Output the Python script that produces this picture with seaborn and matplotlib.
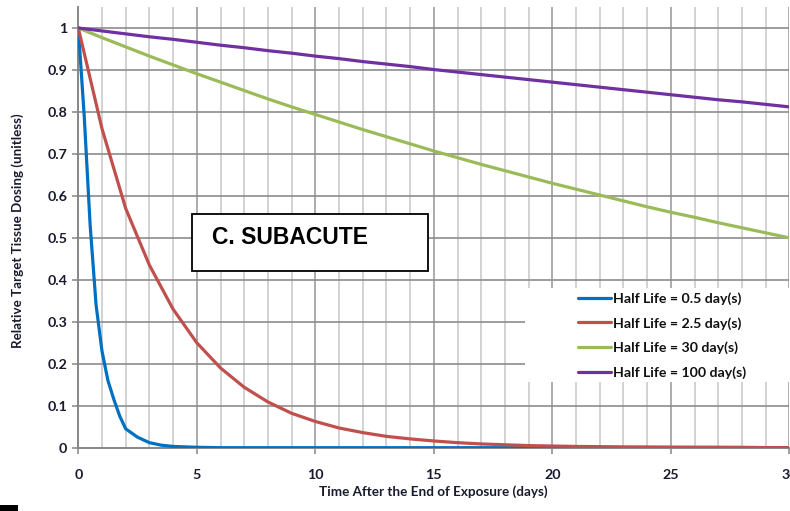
import numpy as np
import pandas as pd
import matplotlib
matplotlib.use("Agg")
import matplotlib.pyplot as plt
from matplotlib.patches import Rectangle
from matplotlib.lines import Line2D
import seaborn as sns

# ---- data ----
days = list(range(0, 31))
blue_t = [0, 0.25, 0.5, 0.75, 1, 1.25, 1.5, 1.75, 2, 2.5, 3, 3.5, 4, 5] + list(range(6, 31))
blue_y = [1.0, 0.79, 0.53, 0.34, 0.23, 0.16, 0.115, 0.075, 0.045, 0.025, 0.012, 0.006, 0.003, 0.001] + [0.0] * 25
red_y = [1.0, 0.76, 0.57, 0.435, 0.33, 0.25, 0.19, 0.144, 0.109, 0.082, 0.0625, 0.047, 0.036,
         0.027, 0.021, 0.016, 0.012, 0.009, 0.007, 0.005, 0.004, 0.003, 0.0025, 0.002, 0.0018,
         0.0015, 0.0013, 0.0012, 0.001, 0.0003, 0.0002]
green_y = [1.0, 0.977, 0.955, 0.933, 0.912, 0.891, 0.871, 0.851, 0.831, 0.812, 0.794, 0.776,
           0.758, 0.741, 0.724, 0.707, 0.691, 0.675, 0.66, 0.645, 0.63, 0.616, 0.602, 0.588,
           0.574, 0.561, 0.549, 0.536, 0.524, 0.512, 0.5]
purple_y = [1.0, 0.993, 0.986, 0.979, 0.973, 0.966, 0.959, 0.953, 0.946, 0.94, 0.933, 0.927,
            0.92, 0.914, 0.908, 0.901, 0.895, 0.889, 0.883, 0.877, 0.871, 0.865, 0.859, 0.853,
            0.847, 0.841, 0.835, 0.829, 0.824, 0.818, 0.812]
series_names = ["Half Life = 0.5 day(s)", "Half Life = 2.5 day(s)",
                "Half Life = 30 day(s)", "Half Life = 100 day(s)"]
colors = ["#0070C0", "#C0504D", "#9BBB59", "#7030A0"]
x_ticks = [0, 5, 10, 15, 20, 25, 30]
y_ticks = [0, 0.1, 0.2, 0.3, 0.4, 0.5, 0.6, 0.7, 0.8, 0.9, 1]
y_tick_labels = ["0", "0.1", "0.2", "0.3", "0.4", "0.5", "0.6", "0.7", "0.8", "0.9", "1"]

frames = [pd.DataFrame({"t": blue_t, "y": blue_y, "s": series_names[0]})]
for name, vals in zip(series_names[1:], [red_y, green_y, purple_y]):
    frames.append(pd.DataFrame({"t": days, "y": vals, "s": name}))
df = pd.concat(frames, ignore_index=True)

sns.set_style("white")
plt.rcParams["font.family"] = ["Lato", "DejaVu Sans"]

W, H = 790, 511
fig = plt.figure(figsize=(W / 100, H / 100), dpi=100)
ax = fig.add_axes([78.3 / W, 1 - 447.7 / H, (789.3 - 78.3) / W, (447.7 - 7) / H])

sns.lineplot(data=df, x="t", y="y", hue="s", hue_order=series_names,
             palette=colors, linewidth=2.3, ax=ax, legend=False, sort=False,
             estimator=None, zorder=5)

ax.set_xlim(0, 30)
ax.set_ylim(0, 1.05)
ax.set_xticks(x_ticks)
ax.set_xticklabels([str(v) for v in x_ticks])
ax.set_yticks(y_ticks)
ax.set_yticklabels(y_tick_labels)

ax.grid(False)
for d in range(1, 31):
    c = "#a6a6a6" if d % 5 == 0 else "#cfcfcf"
    ax.axvline(d, color=c, lw=1.3, zorder=1)
for v in y_ticks[1:]:
    ax.axhline(v, color="#8c8c8c", lw=1.2, zorder=1)

for side in ["top", "right"]:
    ax.spines[side].set_visible(False)
for side in ["left", "bottom"]:
    ax.spines[side].set_color("#868686")
    ax.spines[side].set_linewidth(1.4)
    ax.spines[side].set_zorder(2)

ax.tick_params(axis="x", which="major", direction="out", length=4, width=1.1,
               color="#868686", pad=11, labelsize=10.3, labelcolor="#1a1a2e", bottom=True)
ax.tick_params(axis="y", direction="out", length=4, width=1.1, color="#868686",
               pad=4, labelsize=10.3, labelcolor="#1a1a2e", left=True)
for lab in ax.get_xticklabels() + ax.get_yticklabels():
    lab.set_fontweight("bold")

ax.set_xlabel("")
ax.set_ylabel("")
fig.text(433 / W, 1 - 492 / H, "Time After the End of Exposure (days)", ha="center",
         va="center", fontsize=9.7, fontweight="bold", color="#1a1a2e")
fig.text(18 / W, 1 - 231 / H, "Relative Target Tissue Dosing (unitless)", ha="center",
         va="center", rotation=90, fontsize=9.6, fontweight="bold", color="#1a1a2e")

# legend background
fig.patches.append(Rectangle((525 / W, 1 - 382 / H), (W - 525) / W, (382 - 288) / H,
                             transform=fig.transFigure, facecolor="white",
                             edgecolor="none", zorder=3))
handles = [Line2D([0], [0], color=c, lw=2.3) for c in colors]
leg = fig.legend(handles, series_names, loc="upper left",
                 bbox_to_anchor=(578 / W, 1 - 292 / H), frameon=False,
                 handlelength=2.3, handletextpad=0.15, labelspacing=0.86,
                 borderpad=0, borderaxespad=0,
                 prop={"family": ["Lato", "DejaVu Sans"], "weight": "bold", "size": 10.2})
leg.set_zorder(4)
for t in leg.get_texts():
    t.set_color("#111111")

# text box
fig.patches.append(Rectangle((191.5 / W, 1 - 271 / H), (428 - 191.5) / W, (271 - 214) / H,
                             transform=fig.transFigure, facecolor="white",
                             edgecolor="black", lw=1.3, zorder=3))
fig.text(212 / W, 1 - 238 / H, "C. SUBACUTE", ha="left", va="center", fontsize=16.5,
         fontweight="bold", family=["Liberation Sans", "DejaVu Sans"], color="black",
         zorder=4)

# small black mark at bottom-left corner
fig.patches.append(Rectangle((0, 0), 18 / W, 6 / H, transform=fig.transFigure,
                             facecolor="black", edgecolor="none", zorder=5))

fig.savefig("out.png", dpi=100)
